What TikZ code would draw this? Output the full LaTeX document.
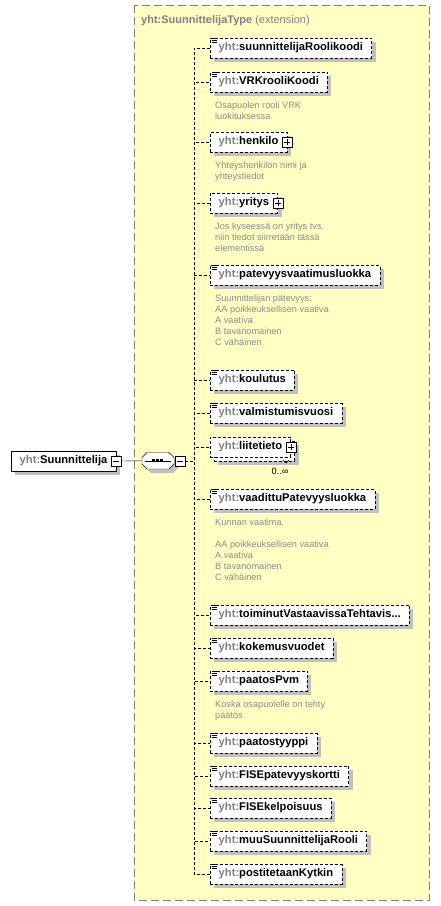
\documentclass[tikz,border=0pt]{standalone}
\usepackage{fontspec}
\setmainfont{Liberation Sans}
\usetikzlibrary{shadows,positioning}
\definecolor{bgyellow}{HTML}{FFFFC4}
\definecolor{framegray}{HTML}{808080}
\definecolor{pfxgray}{HTML}{808080}
\definecolor{docgray}{HTML}{8C8C8C}
\definecolor{shadowgray}{HTML}{C0C0C0}
\newcommand{\yht}[1]{{\color{pfxgray}yht:}#1}

\begin{document}
\begin{tikzpicture}[x=1pt,y=-1pt,
  box/.style={draw, fill=white, anchor=west, minimum height=20pt, inner xsep=8.5pt, inner ysep=0pt,
    text height=8pt, text depth=2.5pt, font=\fontsize{11.2}{13}\selectfont\bfseries},
  shadowed/.style={drop shadow={shadow xshift=4pt, shadow yshift=-4pt, fill=shadowgray, opacity=1}},
  opt/.style={box, shadowed, dash pattern=on 3pt off 2pt},
  doc/.style={inner sep=0pt, align=left, text=docgray, font=\fontsize{9.2}{11}\selectfont},
  tog/.style={draw, fill=white, minimum size=10pt, inner sep=0pt},
  minus/.style={tog, path picture={\draw ([xshift=-3pt]path picture bounding box.center) -- ([xshift=3pt]path picture bounding box.center);}},
  plus/.style={tog, path picture={\draw ([xshift=-3pt]path picture bounding box.center) -- ([xshift=3pt]path picture bounding box.center)
    ([yshift=-3pt]path picture bounding box.center) -- ([yshift=3pt]path picture bounding box.center);}},
  conn/.style={dash pattern=on 3pt off 2pt}]
  \useasboundingbox (0,0) rectangle (440,906);

  % extension frame
  \draw[framegray, fill=bgyellow, dash pattern=on 8pt off 4pt] (134,5) rectangle (429,900);
  \node[anchor=base west, inner sep=0pt, text=pfxgray, font=\fontsize{11}{13}\selectfont] (title) at (141,23)
    {\textbf{yht:SuunnittelijaType} (extension)};

  % root element and sequence
  \node[box, shadowed] (root) at (11,461) {\yht{Suunnittelija}\hspace{4pt}};
  \node[minus] (root-minus) at (root.east) {};
  \fill[shadowgray, shift={(4,4)}] (147,452.5) -- (169,452.5) -- (174,457.5) -- (174,464) -- (169,469)
    -- (147,469) -- (142,464) -- (142,457.5) -- cycle;
  \draw[fill=white] (147,452.5) -- (169,452.5) -- (174,457.5) -- (174,464) -- (169,469)
    -- (147,469) -- (142,464) -- (142,457.5) -- cycle;
  \node[minimum width=32pt, minimum height=16.5pt, inner sep=0pt] (seq) at (158,460.75) {};
  \node[minus] (seq-minus) at (180,461) {};
  \draw ([xshift=3pt]seq.west) -- ([xshift=-3pt]seq.east);
  \foreach \dx in {-5,-1,3}
    \fill ([xshift=\dx pt]seq.center) +(-1.5,-1.5) rectangle +(1.5,1.5);

  % child elements
  \node[opt] (e1) at (210,48) {\yht{suunnittelijaRoolikoodi}};
  \node[opt] (e2) at (210,82) {\yht{VRKrooliKoodi}};
  \node[opt] (e3) at (210,142) {\yht{henkilo}\hspace{5pt}};
  \node[opt] (e4) at (210,203) {\yht{yritys}\hspace{5pt}};
  \node[opt] (e5) at (210,275) {\yht{patevyysvaatimusluokka}};
  \node[opt] (e6) at (210,380) {\yht{koulutus}};
  \node[opt] (e7) at (210,413) {\yht{valmistumisvuosi}};
  \node[opt] (e8-back) at (214,451) {\phantom{\yht{liitetieto}}\hspace{5pt}};
  \node[box, dash pattern=on 3pt off 2pt] (e8) at (210,447) {\yht{liitetieto}\hspace{5pt}};
  \node[opt] (e9) at (210,499) {\yht{vaadittuPatevyysluokka}};
  \node[opt] (e10) at (210,615) {\yht{toiminutVastaavissaTehtavis...}};
  \node[opt] (e11) at (210,648) {\yht{kokemusvuodet}};
  \node[opt] (e12) at (210,681) {\yht{paatosPvm}};
  \node[opt] (e13) at (210,743) {\yht{paatostyyppi}};
  \node[opt] (e14) at (210,776) {\yht{FISEpatevyyskortti}};
  \node[opt] (e15) at (210,808) {\yht{FISEkelpoisuus}};
  \node[opt] (e16) at (210,841) {\yht{muuSuunnittelijaRooli}};
  \node[opt] (e17) at (210,874) {\yht{postitetaanKytkin}};

  \draw (283,460) -- (286,463) -- (289,460);
  \node[inner sep=0pt, font=\fontsize{9.2}{11}\selectfont] (occurs) at (280,471) {0..∞};

  % annotations
  \node[doc, below right=9.5pt and 5pt of e2.south west] (d2) {Osapuolen rooli VRK\\luokituksessa};
  \node[doc, below right=9.5pt and 5pt of e3.south west] (d3) {Yhteyshenkilön nimi ja\\yhteystiedot};
  \node[doc, below right=9.5pt and 5pt of e4.south west] (d4) {Jos kyseessä on yritys tvs.\\niin tiedot siirretään tässä\\elementissä};
  \node[doc, below right=9.5pt and 5pt of e5.south west] (d5) {Suunnittelijan pätevyys:\\AA poikkeuksellisen vaativa\\A vaativa\\B tavanomainen\\C vähäinen};
  \node[doc, below right=9.5pt and 5pt of e9.south west] (d9) {Kunnan vaatima.\\[11pt]AA poikkeuksellisen vaativa\\A vaativa\\B tavanomainen\\C vähäinen};
  \node[doc, below right=9.5pt and 5pt of e12.south west] (d12) {Koska osapuolelle on tehty\\päätös};

  % connectors
  \draw (root-minus.east) -- (seq.west);
  \foreach \e in {e1,e2,e3,e4,e5,e6,e7,e8,e9,e10,e11,e12,e13,e14,e15,e16,e17}
    \draw[conn] (seq-minus.east) -- ++(right:9pt) |- (\e.west);

  % simple type marks and expand boxes
  \foreach \e in {e1,e2,e5,e6,e7,e9,e10,e11,e12,e13,e14,e15,e16,e17}
    \foreach \k in {1,3,5}
      \draw[line width=0.7pt] ([xshift=2pt,yshift=-\k pt]\e.north west) -- ++(5,0);
  \foreach \e in {e3,e4,e8}
    \node[plus] (\e-plus) at (\e.east) {};
\end{tikzpicture}
\end{document}
